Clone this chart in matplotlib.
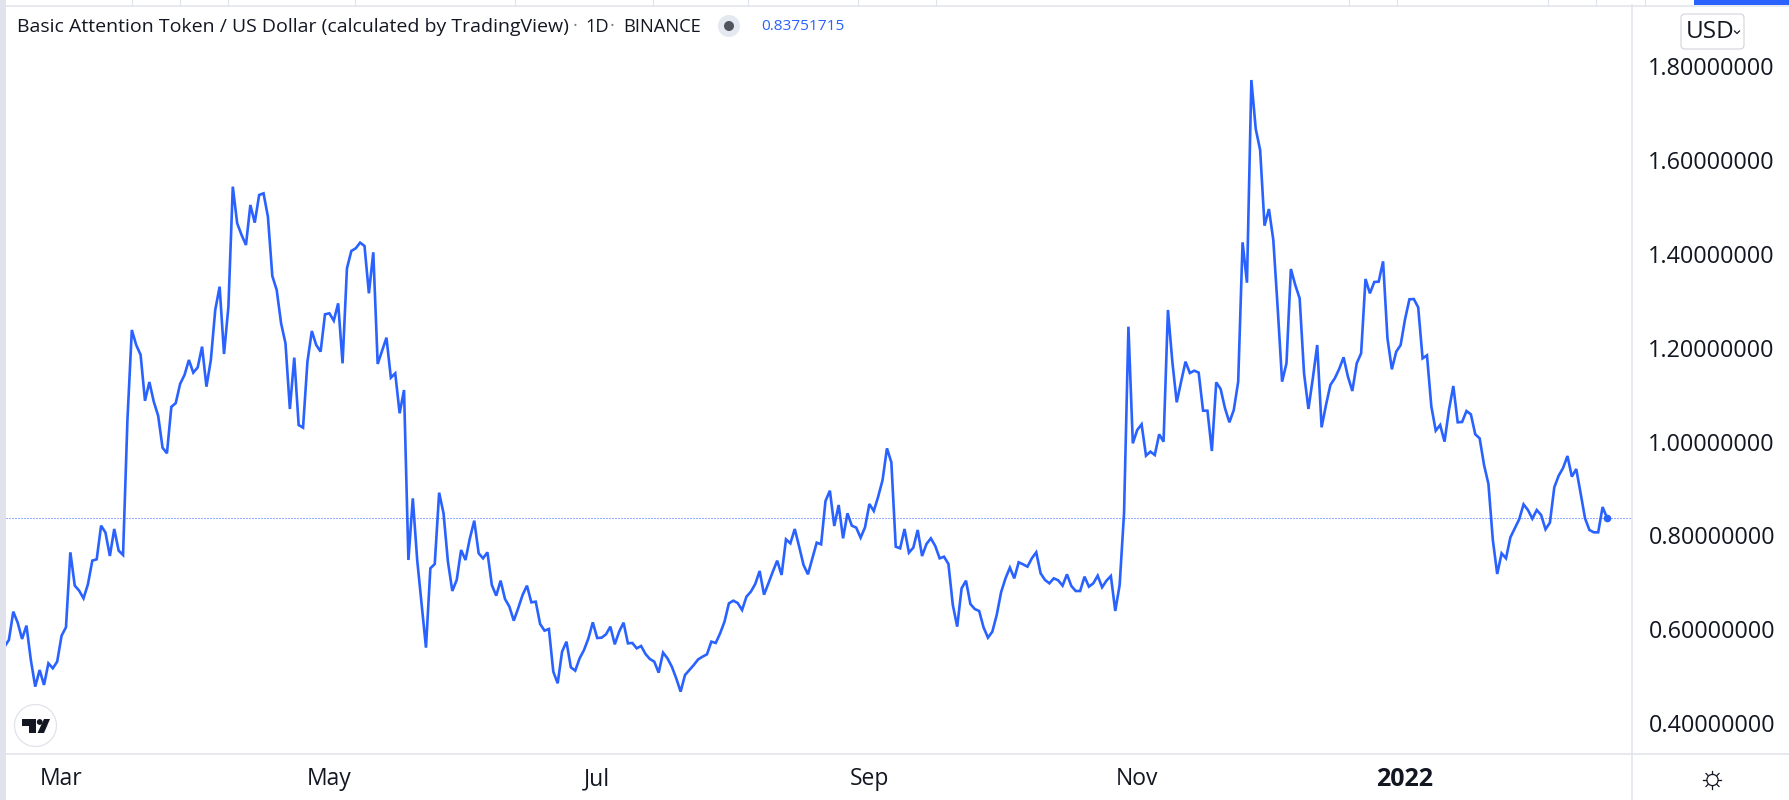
# plot.py
# BAT/USD daily close, TradingView style line chart

import pandas as pd
import matplotlib
matplotlib.use("Agg")
import matplotlib.pyplot as plt
from matplotlib.patches import Circle, Polygon, Rectangle, FancyBboxPatch

plt.rcParams["font.family"] = ["Open Sans", "DejaVu Sans"]

START_DATE = "2021-02-16"

# closes, one per day
closes_feb_apr = [
    .5628, .577, .6374, .6140, .5791, .6076, .5343, .4775, .5130, .4811,
    .5272, .5166, .5308, .5862, .6040, .7639, .6929, .6822, .6658, .6957,
    .7462, .7490, .8208, .8059, .7561, .8137, .7675, .7582, 1.046, 1.238,
    1.206, 1.185, 1.087, 1.127, 1.085, 1.055, .987, .975, 1.074, 1.082,
    1.123, 1.142, 1.174, 1.147, 1.158,
]
closes_apr_may = [
    1.2024, 1.1171, 1.1740, 1.2806, 1.3303, 1.1868, 1.2877, 1.5436, 1.4654, 1.4405,
    1.4192, 1.5045, 1.4668, 1.5258, 1.5293, 1.4796, 1.3531, 1.3232, 1.2522, 1.2095,
    1.0695, 1.1790, 1.0354, 1.0297, 1.1704, 1.2358, 1.2060, 1.1918, 1.2714, 1.2735,
    1.2579, 1.2948, 1.1669, 1.3694, 1.4064, 1.4121, 1.4242, 1.4171, 1.3161, 1.4036,
    1.1655, 1.1932, 1.2216, 1.1363, 1.1455, 1.0603, 1.110,
]
closes_may_jul = [
    .7475, .8790, .7475, .6551, .5606, .7298, .7390, .8911, .8471, .7440,
    .6815, .7049, .7689, .7475, .7937, .8314, .7618, .7511, .7639, .6942,
    .6715, .7035, .6644, .6480, .6182, .6445, .6729, .6928, .6573, .6587,
    .6111, .5969, .6004, .5094, .4846, .5521, .5734, .5187, .5116, .5379,
    .5557, .5805, .6146, .5812,
]
closes_jul_aug = [
    .5819, .5890, .6054, .5677, .5947, .6139, .5698, .5706, .5592, .5642,
    .5471, .5364, .5308, .5073, .5500, .5379, .5201, .4952, .4668, .5023,
    .5130, .5237, .5357, .5414, .5464, .5734, .5706, .5912, .6161, .6551,
    .6608, .6558, .6409, .6694, .6800, .6964, .7241, .6736, .6978, .7227,
    .7461, .7156, .7916, .7831, .8136, .7760,
]
closes_aug_oct = [
    .7369, .7170, .7511, .7845, .7809, .8733, .8953, .8200, .8648, .7937,
    .8470, .8207, .8165, .7951, .8172, .8669, .8520, .8826, .9181, .9856,
    .9558, .7759, .7724, .8136, .7631, .7738, .8115, .7560, .7816, .7937,
    .7774, .7511, .7546, .7390, .6516, .6054, .6871, .7034, .6537, .6430,
    .6388, .6039, .5819, .5947, .6303, .679,
]
closes_oct_nov = [
    .7084, .7312, .7084, .7426, .7383, .7333, .7511, .7639, .7191, .7049,
    .6978, .7084, .7042, .6928, .7170, .6921, .6814, .6814, .7120, .6907,
    .6978, .7141, .6893, .7035, .7134, .6388, .6942, .8470, 1.2450, .9963,
    1.0247, 1.0368, .9700, .9785, .9714, 1.0155, .9998, 1.2806, 1.1704, 1.0837,
    1.1278, 1.1704, 1.1462, 1.1512, 1.1470,
]
closes_nov_jan = [
    1.0659, 1.0659, .9799, 1.1264, 1.1121, 1.0709, 1.0411, 1.0674, 1.1278, 1.4249,
    1.3388, 1.7710, 1.6665, 1.6217, 1.4604, 1.4959, 1.4298, 1.2841, 1.1278, 1.1669,
    1.3680, 1.3339, 1.3054, 1.1455, 1.0695, 1.1349, 1.2059, 1.0304, 1.0780, 1.1207,
    1.1349, 1.1548, 1.1797, 1.1384, 1.1079, 1.1669, 1.1882, 1.3467, 1.3161, 1.3403,
    1.3410, 1.3843, 1.2202, 1.1541, 1.1917, 1.2059,
]
closes_jan_feb = [
    1.2607, 1.3033, 1.3040, 1.2863, 1.1775, 1.1839, 1.0745, 1.0233, 1.0354, .9998,
    1.0673, 1.1185, 1.0411, 1.0418, 1.0652, 1.0581, 1.0155, 1.0069, .9501, .9096,
    .7902, .7177, .7617, .7511, .7958, .8150, .8342, .8662, .8541, .8356,
    .8541, .8435, .8129, .8271, .9025, .9273, .9437, .9693, .9252, .9415,
    .8897, .8364, .8115, .8065, .8065, .8605, .83751715,
]
closes = (closes_feb_apr + closes_apr_may + closes_may_jul + closes_jul_aug
          + closes_aug_oct + closes_oct_nov + closes_nov_jan + closes_jan_feb)
dates = pd.date_range(START_DATE, periods=len(closes), freq="D")
last_price = closes[-1]

price_ticks = [0.4, 0.6, 0.8, 1.0, 1.2, 1.4, 1.6, 1.8]
month_ticks = ["2021-03-01", "2021-05-01", "2021-07-01", "2021-09-01", "2021-11-01", "2022-01-01"]
month_labels = ["Mar", "May", "Jul", "Sep", "Nov", "2022"]

BLUE = "#2962ff"
GRID = "#e0e3eb"
TEXT = "#131722"

# top strip separators of the screenshot, in pixels
top_seps = [132, 180, 228, 355, 515, 653, 748, 858, 936, 1349, 1397, 1548, 1596, 1645]

fig = plt.figure(figsize=(17.9, 8), dpi=100, facecolor="white")

# ── Chrome layer, works in screenshot pixels ──────────────────────────────────
bg = fig.add_axes([0, 0, 1, 1], zorder=0)
bg.set_xlim(0, 1790)
bg.set_ylim(800, 0)
bg.axis("off")

bg.add_patch(Rectangle((0, 0), 6, 800, color=GRID, lw=0))
bg.add_patch(Rectangle((1694, 0), 96, 4.5, color=BLUE, lw=0))
bg.plot([0, 1790], [5.5, 5.5], color=GRID, lw=1.1)
bg.plot([6, 1790], [753.5, 753.5], color=GRID, lw=1.1)
bg.plot([1632, 1632], [5, 800], color=GRID, lw=1.1)
for sep in top_seps:
    bg.plot([sep, sep], [0, 5], color=GRID, lw=0.8)

# legend line
bg.text(17, 26.5, "Basic Attention Token / US Dollar (calculated by TradingView)",
        fontsize=14, color=TEXT, va="center", ha="left")
bg.text(573, 26.5, "·", fontsize=13, color="#787b86", va="center", ha="left")
bg.text(585, 26.5, "1D", fontsize=13.2, color=TEXT, va="center", ha="left")
bg.text(610, 26.5, "·", fontsize=13, color="#787b86", va="center", ha="left")
bg.text(623, 26.5, "BINANCE", fontsize=13.2, color=TEXT, va="center", ha="left")
bg.add_patch(Circle((729, 26), 11, color="#e4e8f1", lw=0))
bg.add_patch(Circle((729, 26), 5, color="#50535e", lw=0))
bg.text(761, 27, f"{last_price:.8f}", fontsize=11.1, color=BLUE, va="center", ha="left")

# currency button
bg.add_patch(FancyBboxPatch((1683, 16), 59, 31, boxstyle="round,pad=2,rounding_size=4",
                            fc="white", ec="#d1d4dc", lw=0.8))
bg.text(1686, 32.5, "USD", fontsize=17.5, color=TEXT, va="center", ha="left")
bg.plot([1734.5, 1737, 1739.5], [31, 33.5, 31], color=TEXT, lw=0.9)

# TV logo
bg.add_patch(Circle((35.5, 725.5), 21, fc="white", ec=GRID, lw=0.9))
bg.add_patch(Polygon([(22, 719), (36, 719), (36, 733), (29, 733), (29, 726), (22, 726)], color=TEXT, lw=0))
bg.add_patch(Circle((39.7, 722), 2.9, color=TEXT, lw=0))
bg.add_patch(Polygon([(44, 719), (50, 719), (44, 733), (37.5, 733)], color=TEXT, lw=0))

# settings sun
bg.add_patch(Circle((1712.5, 780), 5.6, fc="white", ec=TEXT, lw=0.9))
for x0, y0, x1, y1 in [(1712.5, 771, 1712.5, 774), (1712.5, 786, 1712.5, 789), (1703.5, 780, 1706.5, 780),
                       (1718.5, 780, 1721.5, 780), (1706, 773.5, 1708, 775.5), (1717, 784.5, 1719, 786.5),
                       (1706, 786.5, 1708, 784.5), (1717, 775.5, 1719, 773.5)]:
    bg.plot([x0, x1], [y0, y1], color=TEXT, lw=0.9)

# ── Price chart ───────────────────────────────────────────────────────────────
ax = fig.add_axes([6 / 1790, 1 - 753 / 800, (1632 - 6) / 1790, (753 - 5) / 800], zorder=1)
ax.patch.set_alpha(0)
for side in ax.spines:
    ax.spines[side].set_visible(False)

ax.plot(dates, closes, color=BLUE, lw=1.9, solid_joinstyle="miter", zorder=3)
ax.plot(dates[-1], last_price, "o", color=BLUE, ms=5.5, mew=0, zorder=4)
ax.axhline(last_price, color=BLUE, lw=0.72, linestyle=(0, (1, 2)), zorder=2)

ax.set_xlim(dates[0] + pd.Timedelta(days=0.342), dates[0] + pd.Timedelta(days=370.7))
ax.set_ylim(0.336, 1.9309)

ax.yaxis.tick_right()
ax.set_yticks(price_ticks)
ax.set_yticklabels([f"{p:.8f}" for p in price_ticks], fontsize=16.8, color=TEXT)
ax.tick_params(axis="y", length=0, pad=11.8)

ax.set_xticks(pd.to_datetime(month_ticks))
ax.set_xticklabels(month_labels, fontsize=16.5, color=TEXT)
ax.tick_params(axis="x", length=0, pad=10)
ax.get_xticklabels()[-1].set_fontweight("bold")
ax.get_xticklabels()[-1].set_fontsize(18)

plt.savefig("out.png", dpi=100)
